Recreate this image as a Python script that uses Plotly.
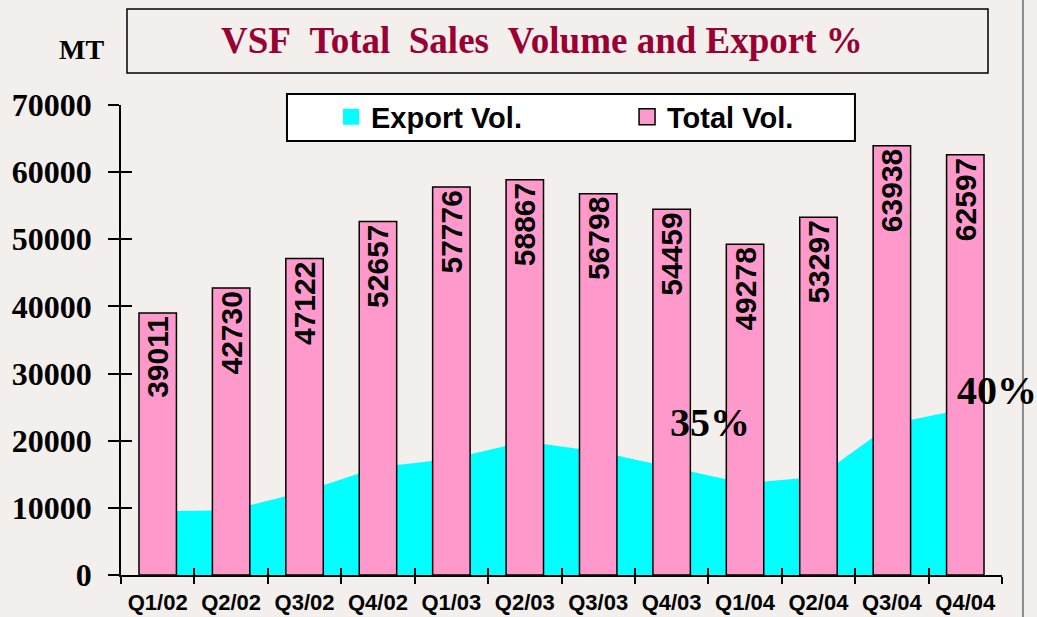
import plotly.graph_objects as go

quarters = ["Q1/02", "Q2/02", "Q3/02", "Q4/02", "Q1/03", "Q2/03",
            "Q3/03", "Q4/03", "Q1/04", "Q2/04", "Q3/04", "Q4/04"]
total_vol = [39011, 42730, 47122, 52657, 57776, 58867,
             56798, 54459, 49278, 53297, 63938, 62597]
export_vol = [9500, 9650, 12450, 16050, 17300, 19900,
              18380, 16000, 13650, 14650, 22530, 24770]
y_ticks = [0, 10000, 20000, 30000, 40000, 50000, 60000, 70000]
pct_labels = [("35%", 7.52, 22700), ("40%", 11.43, 27480)]

BG = "#f2efec"
PINK = "#ff99cc"
CYAN = "#00ffff"
SERIF = "Liberation Serif"
SANS = "Liberation Sans"

fig = go.Figure()

# export area (main subplot, drawn underneath)
fig.add_trace(go.Scatter(
    x=quarters, y=export_vol, mode="none", fill="tozeroy",
    fillcolor=CYAN, xaxis="x", yaxis="y", showlegend=False,
    hoverinfo="x+y"))

# total bars (overlay subplot, drawn on top)
fig.add_trace(go.Bar(
    x=quarters, y=total_vol, xaxis="x2", yaxis="y2",
    marker=dict(color=PINK, line=dict(color="black", width=1.5)),
    width=0.51, text=[str(v) for v in total_vol],
    textposition="inside", insidetextanchor="end", textangle=-90,
    constraintext="none",
    textfont=dict(family=SANS, size=30, color="black", weight="bold"),
    showlegend=False))

# legend entries
fig.add_trace(go.Scatter(
    x=[None], y=[None], mode="markers", name="Export Vol.",
    marker=dict(symbol="square", size=18, color=CYAN),
    legend="legend"))
fig.add_trace(go.Scatter(
    x=[None], y=[None], mode="markers", name="Total Vol.",
    marker=dict(symbol="square", size=18, color=PINK,
                line=dict(color="black", width=1.5)),
    legend="legend2"))

axis_common = dict(showgrid=False, zeroline=False, showline=True,
                   linecolor="black", linewidth=1.5,
                   tickcolor="black", tickwidth=1.5, automargin=False)

legend_common = dict(orientation="h", yanchor="middle", xanchor="left",
                     y=0.9745, bgcolor="rgba(0,0,0,0)", borderwidth=0,
                     itemsizing="trace",
                     font=dict(family=SANS, size=29, color="black",
                               weight="bold"))

annotations = [
    dict(text="VSF\u00a0\u00a0Total\u00a0\u00a0Sales\u00a0\u00a0Volume and Export %",
         xref="paper", yref="paper", x=0.4779, y=1.1372,
         xanchor="center", yanchor="middle", showarrow=False,
         font=dict(family=SERIF, size=37, color="#990033", weight="bold")),
    dict(text="MT", xref="paper", yref="paper", x=-0.0454, y=1.118,
         xanchor="center", yanchor="middle", showarrow=False,
         font=dict(family=SERIF, size=28, color="black", weight="bold")),
]
for txt, xv, yv in pct_labels:
    annotations.append(dict(
        text=txt, xref="x", yref="y", x=xv, y=yv,
        xanchor="center", yanchor="middle", showarrow=False,
        font=dict(family=SERIF, size=40, color="black", weight="bold")))

shapes = [
    # title box
    dict(type="rect", xref="paper", yref="paper",
         x0=0.0068, x1=0.9841, y0=1.0681, y1=1.2043,
         line=dict(color="black", width=1.5), fillcolor="rgba(0,0,0,0)"),
    # legend box
    dict(type="rect", xref="paper", yref="paper",
         x0=0.1884, x1=0.8331, y0=0.9234, y1=1.0234,
         line=dict(color="black", width=2), fillcolor="white",
         layer="above"),
    # slide edge line
    dict(type="line", xref="paper", yref="paper",
         x0=1.0238, x1=1.0238, y0=-0.1, y1=1.25,
         line=dict(color="#8a8a8a", width=2)),
]

fig.update_layout(
    width=1037, height=617, autosize=False,
    margin=dict(l=121, r=35, t=105, b=42, autoexpand=False),
    paper_bgcolor=BG, plot_bgcolor="rgba(0,0,0,0)",
    xaxis=dict(type="category", categoryorder="array",
               categoryarray=quarters, range=[-0.5, 11.5],
               ticks="outside", ticklen=7, tickson="boundaries",
               tickfont=dict(family=SANS, size=22, color="black",
                             weight="bold"),
               ticklabelstandoff=7, **axis_common),
    xaxis2=dict(type="category", categoryorder="array",
                categoryarray=quarters, range=[-0.5, 11.5],
                overlaying="x", anchor="y2", side="bottom",
                ticks="inside", ticklen=7, tickson="boundaries",
                showticklabels=False, **axis_common),
    yaxis=dict(range=[0, 70000], tickvals=y_ticks,
               ticktext=[str(v) for v in y_ticks],
               ticks="outside", ticklen=11,
               tickfont=dict(family=SERIF, size=32, color="black",
                             weight="bold"),
               ticklabelstandoff=10, **axis_common),
    yaxis2=dict(range=[0, 70000], tickvals=y_ticks, overlaying="y",
                anchor="x2", side="left", ticks="inside", ticklen=11,
                showticklabels=False, **axis_common),
    legend=dict(x=0.2384, **legend_common),
    legend2=dict(x=0.5744, **legend_common),
    annotations=annotations,
    shapes=shapes,
)

fig.write_html("out.html",
               config={"displayModeBar": False},
               post_script="document.body.style.margin='0px';"
                           "document.body.style.background='" + BG + "';")
